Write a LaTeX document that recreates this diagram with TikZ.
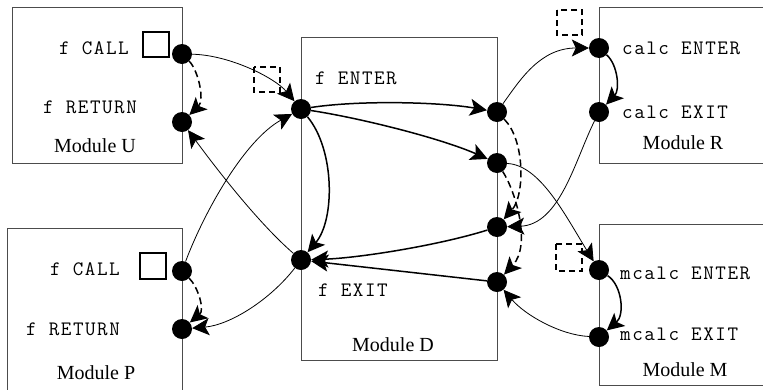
\documentclass[tikz,border=0pt]{standalone}
\usepackage{fontspec}
\setmainfont{Liberation Serif}
\newfontfamily\codefont[LetterSpace=7.5]{Latin Modern Mono}
\usetikzlibrary{arrows.meta}
\begin{document}
\begin{tikzpicture}[x=1pt,y=-1pt,
  >={Stealth[length=17pt,width=17pt,inset=4pt]},
  dot/.style={circle,fill=black,inner sep=0pt,minimum size=20pt},
  box/.style={draw=black!70,line width=0.8pt},
  lbl/.style={font=\fontsize{20.5}{22}\selectfont\codefont,inner sep=0pt,anchor=west},
  mod/.style={font=\fontsize{20}{22}\selectfont,inner sep=0pt},
  thin arrow/.style={line width=0.8pt,->},
  thick arrow/.style={line width=1.5pt,->},
  dash arrow/.style={line width=1.5pt,->,dash pattern=on 7pt off 4pt},
  solidsq/.style={draw,line width=1.2pt},
  dashsq/.style={draw,line width=1.2pt,dash pattern=on 6pt off 4pt}]
\useasboundingbox (0,0) rectangle (763,389);
\fill[white] (0,0) rectangle (763,389);

% module boxes
\draw[box] (12,7) rectangle (182,163);
\draw[box] (7,228) rectangle (182,395);
\draw[box] (301,37) rectangle (497,360);
\draw[box] (599,7) rectangle (775,163);
\draw[box] (599,224) rectangle (775,385);

% squares
\draw[solidsq] (143,32) rectangle (169,57);
\draw[solidsq] (140,253) rectangle (166,279);
\draw[dashsq] (254,67) rectangle (280,92);
\draw[dashsq] (557,10) rectangle (582,35);
\draw[dashsq] (556,244) rectangle (582,271);

% labels
\node[lbl] (tuc) at (59,48) {f CALL};
\node[lbl] (tur) at (43,107) {f RETURN};
\node[mod] (mu) at (95,146) {Module U};
\node[lbl] (tpc) at (50,269) {f CALL};
\node[lbl] (tpr) at (26,329) {f RETURN};
\node[mod] (mp) at (96,373) {Module P};
\node[lbl] (tde) at (315,78) {f ENTER};
\node[lbl] (tdx) at (318,290) {f EXIT};
\node[mod] (md) at (393,345) {Module D};
\node[lbl] (tre) at (622,48) {calc ENTER};
\node[lbl] (trx) at (622,112) {calc EXIT};
\node[mod] (mr) at (683,143) {Module R};
\node[lbl] (tme) at (620,273) {mcalc ENTER};
\node[lbl] (tmx) at (620,334) {mcalc EXIT};
\node[mod] (mm) at (685,370) {Module M};

% dots
\node[dot] (uc) at (182,54) {};
\node[dot] (ur) at (182,122) {};
\node[dot] (pc) at (182,271) {};
\node[dot] (pr) at (182,329) {};
\node[dot] (de) at (301,109) {};
\node[dot] (dx) at (301,260) {};
\node[dot] (d1) at (497,112) {};
\node[dot] (d2) at (497,163) {};
\node[dot] (d3) at (497,227) {};
\node[dot] (d4) at (497,282) {};
\node[dot] (re) at (599,48) {};
\node[dot] (rx) at (599,112) {};
\node[dot] (me) at (599,270) {};
\node[dot] (mx) at (599,337) {};

% connectors
\draw[thin arrow] (uc) .. controls (230,55) and (275,78) .. (de);
\draw[dash arrow] (uc) .. controls (198,70) and (205,100) .. (ur);
\draw[thin arrow] (dx) .. controls (255,220) and (210,160) .. (ur);
\draw[thin arrow] (pc) .. controls (205,210) and (245,140) .. (de);
\draw[thin arrow] (dx) .. controls (270,300) and (230,325) .. (pr);
\draw[dash arrow] (pc) .. controls (198,287) and (205,310) .. (pr);

\draw[thick arrow] (de) .. controls (360,100) and (440,102) .. (d1);
\draw[thick arrow] (de) .. controls (360,118) and (440,138) .. (d2);
\draw[thick arrow] (de) .. controls (335,150) and (335,220) .. (dx);
\draw[thick arrow] (d3) .. controls (440,245) and (360,258) .. (dx);
\draw[thick arrow] (d4) -- (dx);

\draw[thin arrow] (d1) .. controls (520,80) and (540,48) .. (re);
\draw[thick arrow] (re) .. controls (618,65) and (620,90) .. (rx);
\draw[thin arrow] (rx) .. controls (575,160) and (560,225) .. (d3);
\draw[thin arrow] (d2) .. controls (540,165) and (565,215) .. (me);
\draw[thick arrow] (me) .. controls (622,285) and (625,315) .. (mx);
\draw[thin arrow] (mx) .. controls (560,335) and (525,315) .. (d4);

\draw[dash arrow] (d1) .. controls (525,140) and (525,195) .. (d3);
\draw[dash arrow] (d2) .. controls (515,190) and (532,245) .. (d4);
\end{tikzpicture}
\end{document}
